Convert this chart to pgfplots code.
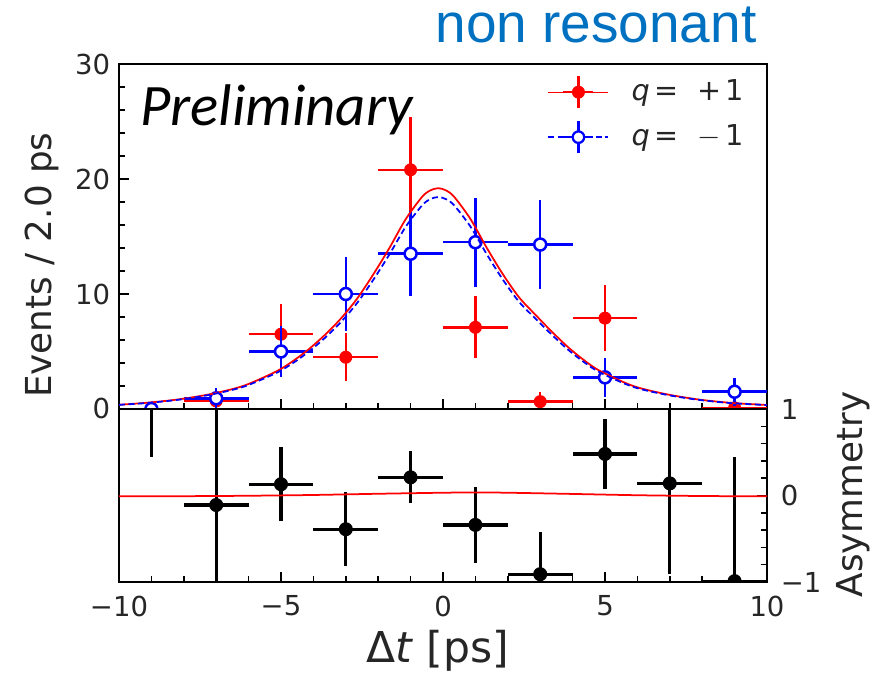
\documentclass[border=0pt]{standalone}
\usepackage{pgfplots}
\pgfplotsset{compat=1.18}
\usepackage{fontspec}
\setmainfont{DejaVu Sans}
\newfontfamily\carlito{Carlito}
\newfontfamily\arialf{Liberation Sans}
\definecolor{nonres}{HTML}{0070C0}

\pgfplotstableread{
x y ey
-7 0.7 0.5
-5 6.5 2.6
-3 4.5 2.1
-1 20.8 4.6
1 7.1 2.7
3 0.64 0.8
5 7.9 2.9
9 0.1 0.4
}\redpts

\pgfplotstableread{
x y ey
-9 0 0
-7 0.93 0.9
-5 5.0 2.25
-3 10.0 3.2
-1 13.5 3.7
1 14.5 3.85
3 14.3 3.85
5 2.75 1.7
9 1.5 1.2
}\bluepts

\pgfplotstableread{
x y
-10 0.37
-9.15 0.54
-8.15 0.84
-7.15 1.31
-6.15 2.02
-5.15 3.26
-4.65 4.13
-4.15 5.18
-3.65 6.43
-3.15 7.87
-2.65 9.60
-2.15 11.71
-1.65 14.02
-1.15 16.51
-0.65 18.43
-0.40 19.0
-0.15 19.2
0.10 19.0
0.35 18.43
0.85 16.51
1.35 14.02
1.85 11.71
2.35 9.70
2.85 8.20
3.35 6.75
3.85 5.40
4.35 4.25
4.85 3.30
5.85 2.02
6.85 1.31
7.85 0.84
8.85 0.54
9.85 0.37
10 0.33
}\redfit

\pgfplotstableread{
x y
-10 0.36
-9.15 0.52
-8.15 0.81
-7.15 1.26
-6.15 1.94
-5.15 3.13
-4.65 3.96
-4.15 4.97
-3.65 6.17
-3.15 7.56
-2.65 9.22
-2.15 11.24
-1.65 13.46
-1.15 15.85
-0.65 17.69
-0.40 18.24
-0.15 18.43
0.10 18.24
0.35 17.69
0.85 15.85
1.35 13.46
1.85 11.24
2.35 9.31
2.85 7.87
3.35 6.48
3.85 5.18
4.35 4.08
4.85 3.17
5.85 1.94
6.85 1.26
7.85 0.81
8.85 0.52
9.85 0.36
10 0.32
}\bluefit

\pgfplotstableread{
x y ey
-9 1.2 0.75
-7 -0.11 1.3
-5 0.13 0.43
-3 -0.39 0.43
-1 0.21 0.30
1 -0.34 0.44
3 -0.91 0.49
5 0.48 0.40
7 0.14 1.05
9 -0.99 1.44
}\asym

\pgfplotstableread{
x y
-10 -0.01
-8 -0.008
-6 -0.003
-4 0.006
-2 0.02
0 0.032
1 0.035
2 0.032
4 0.018
6 0.003
8 -0.006
10 -0.01
}\asymfit

\begin{document}
\begin{tikzpicture}
\path[use as bounding box] (0,0) rectangle (350.8pt,272.4pt);
\pgfplotsset{
  common/.style={
    scale only axis, width=259.2pt,
    xmin=-10, xmax=10,
    tick align=inside,
    major tick length=4pt, minor tick length=2.4pt,
    tick style={black, line width=0.6pt},
    axis line style={line width=0.8pt},
    clip marker paths=true,
    /pgf/number format/assume math mode=true,
    ticklabel style={font=\fontsize{11}{13}\selectfont, text=black!85},
  }
}
% top panel
\begin{axis}[common,
  at={(47.6pt,108.8pt)}, anchor=south west, height=138pt,
  ymin=0, ymax=30,
  xtick={-10,-5,0,5,10}, xticklabels={}, minor x tick num=4,
  ytick={0,10,20,30}, minor y tick num=4,
  xtick pos=left, ytick pos=left,
  ylabel={Events / 2.0 ps},
  ylabel style={at={(axis description cs:-0.119,0.417)}, anchor=center, font=\fontsize{14.3}{17}\selectfont, text=black!85},
  legend style={draw=none, fill=none, at={(0.985,0.985)}, anchor=north east,
    font=\fontsize{11.5}{14}\selectfont, row sep=4pt, text=black!85},
  legend cell align=left,
]
\addplot[only marks, mark=*, red, mark size=2.4pt, forget plot,
  error bars/.cd, x dir=both, x fixed=1, y dir=both, y explicit,
  error bar style={red, line width=1pt}, error mark=none]
  table[x=x, y=y, y error=ey] {\redpts};
\addplot[only marks, mark=*, blue, mark size=2.4pt, mark options={fill=white, draw=blue, line width=1pt}, forget plot,
  error bars/.cd, x dir=both, x fixed=1, y dir=both, y explicit,
  error bar style={blue, line width=1pt}, error mark=none]
  table[x=x, y=y, y error=ey] {\bluepts};
\addplot[red, line width=0.7pt, smooth, no markers, forget plot] table[x=x,y=y] {\redfit};
\addplot[blue, line width=0.7pt, dash pattern=on 2.4pt off 1.4pt, smooth, no markers, forget plot] table[x=x,y=y] {\bluefit};
\addlegendimage{legend image code/.code={
  \draw[red, line width=0.5pt] (0pt,0pt) -- (24pt,0pt);
  \draw[red, line width=1pt] (12pt,-6.5pt) -- (12pt,6.5pt);
  \draw[red, line width=1pt] (6pt,0pt) -- (18pt,0pt);
  \fill[red] (12pt,0pt) circle (2.4pt);
}}
\addlegendentry{\hspace*{7pt}\textit{q}\,=\ \ +\,1}
\addlegendimage{legend image code/.code={
  \draw[blue, line width=0.6pt, dash pattern=on 2.4pt off 1.4pt] (0pt,0pt) -- (24pt,0pt);
  \draw[blue, line width=1pt] (12pt,-6.5pt) -- (12pt,6.5pt);
  \draw[blue, line width=1pt] (6pt,0pt) -- (18pt,0pt);
  \filldraw[blue, fill=white, line width=0.9pt] (12pt,0pt) circle (2.3pt);
}}
\addlegendentry{\hspace*{7pt}\textit{q}\,=\ \ $-$\,1}
\node[anchor=base west, inner sep=0pt, font=\carlito\itshape\fontsize{23.5}{28}\selectfont]
  at (rel axis cs:0.032,0.823) {Preliminary};
\end{axis}
% bottom panel
\begin{axis}[common,
  at={(47.6pt,39.6pt)}, anchor=south west, height=69.2pt,
  ymin=-1, ymax=1,
  xtick={-10,-5,0,5,10}, xticklabels={−10,−5,0,5,10}, minor x tick num=4,
  ytick={-1,0,1}, yticklabels={−1,0,1}, minor y tick num=4,
  xtick pos=left, ytick pos=right, yticklabel pos=right,
  xticklabel style={yshift=-2pt},
  yticklabel style={xshift=2pt},
  xlabel={Δ\textit{t} [ps]},
  xlabel style={at={(axis description cs:0.492,-0.395)}, anchor=center, font=\fontsize{17}{20}\selectfont, text=black!85},
  ylabel={Asymmetry},
  ylabel style={at={(axis description cs:1.133,0.506)}, anchor=center, rotate=0, font=\fontsize{14.3}{17}\selectfont, text=black!85},
]
\addplot[only marks, mark=*, black, mark size=2.6pt,
  error bars/.cd, x dir=both, x fixed=1, y dir=both, y explicit,
  error bar style={black, line width=1.3pt}, error mark=none]
  table[x=x, y=y, y error=ey] {\asym};
\addplot[red, line width=0.7pt, smooth, no markers] table[x=x,y=y] {\asymfit};
\end{axis}
\node[anchor=base east, inner sep=0pt, text=nonres, font=\arialf\fontsize{22}{26}\selectfont]
  at (302.8pt,255.2pt) {non resonant};
\end{tikzpicture}
\end{document}
